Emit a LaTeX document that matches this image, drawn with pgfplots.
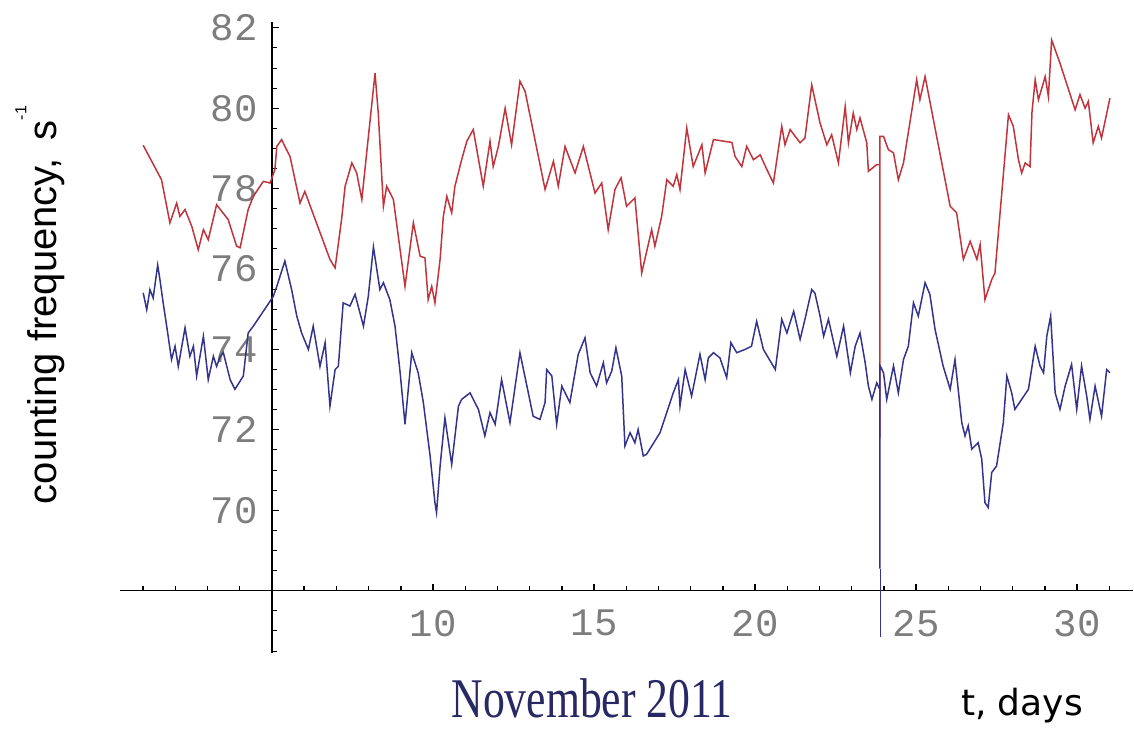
\documentclass[border=0pt]{standalone}
\usepackage{pgfplots}
\pgfplotsset{compat=1.18}
\usepackage{fontspec}
\setmainfont{Liberation Sans}
\setmonofont{Liberation Mono}
\newfontfamily\dejavu{DejaVu Sans}
\newfontfamily\tnr{Liberation Serif}
\definecolor{redline}{RGB}{192,52,60}
\definecolor{blueline}{RGB}{52,52,140}
\definecolor{ticklab}{RGB}{125,125,125}
\definecolor{navytext}{RGB}{40,40,100}
\begin{document}
\begin{tikzpicture}
\begin{axis}[
  scale only axis, width=506.7pt, height=315.6pt,
  xmin=0.28, xmax=31.75, ymin=66.45, ymax=82.15,
  x coord trafo/.code={\pgfmathparse{#1-5}},
  x coord inv trafo/.code={\pgfmathparse{#1+5}},
  y coord trafo/.code={\pgfmathparse{#1-68}},
  y coord inv trafo/.code={\pgfmathparse{#1+68}},
  axis lines=middle,
  axis line style={-, line width=0.75pt, black},
  xtick={10,15,20,25,30},
  xticklabels={10,15,20,25,30},
  minor xtick={1,2,3,4,6,7,8,9,11,12,13,14,16,17,18,19,21,22,23,24,26,27,28,29,31},
  ytick={70,72,74,76,78,80,82},
  yticklabels={70,72,74,76,78,80,82},
  minor ytick={66.5,67,67.5,68.5,69,69.5,70.5,71,71.5,72.5,73,73.5,74.5,75,75.5,76.5,77,77.5,78.5,79,79.5,80.5,81,81.5},
  xtick align=inside, ytick align=inside,
  major tick length=3.5pt, minor tick length=2.4pt,
  x tick style={black, line width=0.7pt},
  y tick style={black, line width=0.5pt},
  ticklabel style={font=\fontsize{19.5}{20}\selectfont\ttfamily, text=ticklab, inner sep=0pt},
  xticklabel style={anchor=north, yshift=-9.5pt},
  yticklabel style={anchor=east, xshift=-7pt},
  clip=false,
]
\addplot[redline, line width=0.75pt] coordinates {
(1.00,79.08) (1.57,78.22) (1.83,77.15) (2.04,77.64) (2.14,77.31) (2.30,77.48) (2.51,77.06)
(2.71,76.48) (2.87,76.98) (3.02,76.73) (3.28,77.60) (3.64,77.23) (3.90,76.57) (4.01,76.53)
(4.26,77.48) (4.42,77.81) (4.73,78.18) (4.94,78.14) (5.09,78.47) (5.15,79.05) (5.30,79.22)
(5.40,79.05) (5.56,78.80) (5.87,77.64) (6.02,77.93) (6.80,76.24) (6.96,76.03) (7.16,77.23)
(7.27,78.06) (7.48,78.64) (7.63,78.39) (7.79,77.73) (7.94,78.89) (8.20,80.87) (8.30,79.88)
(8.46,77.56) (8.56,78.06) (8.77,77.73) (9.13,75.57) (9.39,77.15) (9.60,76.32) (9.75,76.28)
(9.85,75.24) (9.96,75.57) (10.06,75.16) (10.22,76.24) (10.32,77.31) (10.43,77.81) (10.58,77.40)
(10.68,78.06) (10.89,78.72) (11.05,79.18) (11.25,79.47) (11.56,78.06) (11.77,79.18) (11.87,78.55)
(12.03,79.05) (12.24,80.00) (12.44,79.09) (12.70,80.67) (12.86,80.42) (13.48,77.98) (13.74,78.68)
(13.89,78.06) (14.10,79.05) (14.41,78.39) (14.67,79.05) (15.03,77.89) (15.24,78.14) (15.44,76.98)
(15.65,77.98) (15.84,78.27) (16.01,77.56) (16.27,77.77) (16.48,75.90) (16.79,76.98) (16.89,76.57)
(17.10,77.31) (17.26,78.22) (17.46,78.06) (17.57,78.35) (17.67,77.98) (17.88,79.51) (18.08,78.55)
(18.35,79.09) (18.45,78.39) (18.71,79.22) (19.28,79.15) (19.38,78.80) (19.59,78.55) (19.74,79.05)
(19.95,78.72) (20.16,78.84) (20.37,78.47) (20.57,78.14) (20.83,79.55) (20.93,79.09) (21.09,79.47)
(21.40,79.14) (21.55,79.26) (21.76,80.58) (22.02,79.63) (22.23,79.09) (22.38,79.34) (22.59,78.64)
(22.80,80.04) (22.90,79.14) (23.05,79.88) (23.16,79.47) (23.26,79.76) (23.47,79.14) (23.52,78.43)
(23.78,78.60) (23.88,78.60) (23.88,71.80) (23.88,79.30) (23.99,79.30) (24.14,78.97) (24.30,78.89)
(24.45,78.22) (24.61,78.64) (25.02,80.71) (25.12,80.21) (25.28,80.79) (26.06,77.56) (26.26,77.40)
(26.47,76.24) (26.68,76.69) (26.89,76.24) (26.99,76.61) (27.14,75.24) (27.35,75.74) (27.45,75.90)
(27.87,79.84) (28.02,79.55) (28.18,78.72) (28.28,78.39) (28.39,78.64) (28.54,78.55) (28.60,79.90)
(28.70,80.71) (28.80,80.21) (29.01,80.79) (29.11,80.29) (29.21,81.70) (29.47,81.12) (29.94,79.96)
(30.09,80.34) (30.25,80.00) (30.35,80.17) (30.50,79.14) (30.66,79.55) (30.76,79.26) (31.02,80.25)
};
\addplot[blueline, line width=0.75pt] coordinates {
(1.00,75.41) (1.11,74.99) (1.21,75.49) (1.31,75.28) (1.45,76.10) (1.52,75.74) (1.62,75.16)
(1.73,74.58) (1.88,73.75) (1.99,74.08) (2.09,73.58) (2.30,74.54) (2.45,73.83) (2.56,74.08)
(2.66,73.34) (2.87,74.33) (3.02,73.25) (3.18,73.83) (3.28,73.58) (3.39,73.83) (3.49,73.92)
(3.70,73.25) (3.85,73.01) (4.11,73.34) (4.26,74.41) (4.42,74.58) (4.63,74.83) (4.84,75.08)
(5.04,75.32) (5.15,75.57) (5.40,76.20) (5.61,75.49) (5.77,74.83) (5.92,74.41) (6.13,74.00)
(6.28,74.58) (6.49,73.58) (6.65,74.17) (6.80,72.59) (6.96,73.50) (7.06,73.58) (7.21,75.16)
(7.42,75.08) (7.58,75.37) (7.84,74.58) (7.99,75.32) (8.15,76.55) (8.35,75.49) (8.46,75.66)
(8.66,75.24) (8.82,74.58) (8.98,73.42) (9.13,72.14) (9.34,73.92) (9.54,73.42) (9.70,72.68)
(9.91,71.35) (10.06,70.19) (10.11,69.94) (10.22,71.10) (10.37,72.30) (10.58,71.14) (10.79,72.59)
(10.89,72.76) (11.15,72.92) (11.30,72.68) (11.41,72.51) (11.61,71.85) (11.77,72.43) (11.93,72.14)
(12.13,73.25) (12.39,72.18) (12.70,73.92) (12.96,72.92) (13.11,72.34) (13.32,72.26) (13.48,72.68)
(13.53,73.50) (13.69,73.34) (13.84,72.14) (14.00,73.09) (14.25,72.68) (14.51,73.88) (14.72,74.29)
(14.88,73.42) (15.08,73.09) (15.29,73.67) (15.39,73.17) (15.55,73.46) (15.68,74.04) (15.86,73.34)
(15.96,71.60) (16.12,71.93) (16.27,71.68) (16.37,72.01) (16.53,71.35) (16.63,71.39) (17.05,71.93)
(17.46,72.92) (17.62,73.25) (17.67,72.59) (17.83,73.50) (18.03,72.84) (18.29,73.88) (18.45,73.25)
(18.55,73.79) (18.71,73.92) (18.91,73.79) (19.12,73.30) (19.25,74.17) (19.43,73.92) (19.69,74.00)
(19.89,74.08) (20.05,74.70) (20.26,74.00) (20.63,73.50) (20.83,74.75) (20.99,74.41) (21.20,74.95)
(21.40,74.25) (21.55,74.75) (21.76,75.49) (21.86,75.40) (22.02,74.83) (22.13,74.33) (22.28,74.75)
(22.54,73.83) (22.75,74.58) (22.96,73.42) (23.11,74.08) (23.26,74.41) (23.42,73.67) (23.52,73.09)
(23.63,72.76) (23.78,73.17) (23.88,73.00) (23.88,68.55) (23.88,73.60) (23.99,73.42) (24.09,72.76)
(24.30,73.59) (24.45,72.92) (24.61,73.75) (24.76,74.08) (24.92,75.16) (25.07,74.83) (25.28,75.66)
(25.43,75.37) (25.59,74.50) (25.84,73.59) (26.06,73.01) (26.21,73.75) (26.42,72.18) (26.52,71.85)
(26.62,72.10) (26.73,71.52) (26.93,71.68) (27.04,71.27) (27.14,70.19) (27.24,70.07) (27.35,70.94)
(27.50,71.10) (27.71,72.18) (27.82,73.34) (27.97,72.92) (28.07,72.51) (28.49,73.01) (28.70,74.08)
(28.85,73.59) (28.96,73.42) (29.06,74.33) (29.18,74.83) (29.32,72.92) (29.47,72.51) (29.63,73.09)
(29.83,73.63) (29.99,72.51) (30.14,73.59) (30.30,72.84) (30.40,72.26) (30.56,73.09) (30.76,72.34)
(30.92,73.50) (31.02,73.42)
};
\addplot[blueline, line width=0.4pt] coordinates {(23.88,68.55) (23.88,66.84)};
\end{axis}
\coordinate (O) at (current axis.south west);
\node[rotate=90, anchor=center, font=\fontsize{20}{20}\selectfont] at ([shift={(-40pt,174pt)}]O)
  {counting frequency,\hspace{0.45em}s\raisebox{0.75em}{\fontsize{8}{8}\selectfont -1}};
\node[anchor=base, inner sep=0pt, text=navytext] at ([shift={(236pt,-32pt)}]O)
  {\scalebox{0.78}[1]{\tnr\fontsize{28}{28}\selectfont November 2011}};
\node[anchor=base, inner sep=0pt, font=\dejavu\fontsize{18}{18}\selectfont] at ([shift={(451pt,-31pt)}]O) {t, days};
\pgfresetboundingbox
\path ([shift={(-60pt,-38.5pt)}]O) rectangle ([shift={(507pt,326.5pt)}]O);
\end{tikzpicture}
\end{document}
